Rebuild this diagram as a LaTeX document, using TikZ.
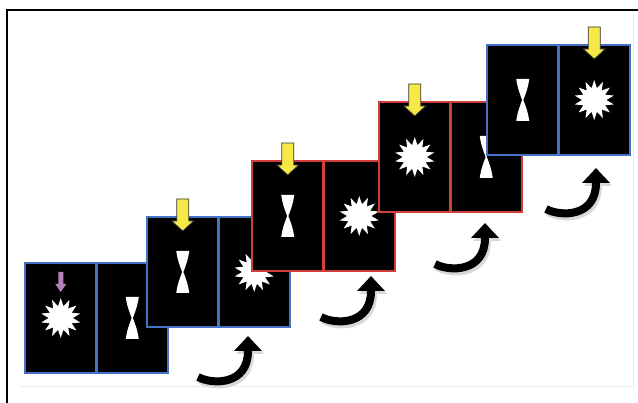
\documentclass[tikz,border=0pt]{standalone}
\usetikzlibrary{shapes.geometric, arrows.meta, positioning}
\definecolor{panelblue}{RGB}{68,114,196}
\definecolor{panelred}{RGB}{208,62,56}
\definecolor{cueyellow}{RGB}{246,232,70}
\definecolor{cuepink}{RGB}{184,128,184}

\begin{document}
\begin{tikzpicture}[
    x=1pt, y=-1pt,
    % Estilos de las celdas
    cellb/.style={rectangle, fill=black, draw=panelblue, line width=2.5pt, outer sep=0pt,
        minimum width=71.5pt, minimum height=110pt, inner sep=0pt, anchor=north west},
    cellr/.style={cellb, draw=panelred},
    burst/.style={star, star points=14, star point ratio=1.65, fill=white, inner sep=0pt, minimum size=40pt},
    % Estilos de flechas y marco
    curl/.style={line width=8pt, -{Triangle[length=15pt, width=27pt]}},
    frame/.style={line width=1.6pt, black}
]
\useasboundingbox (0,0) rectangle (638,403);

% ==========================================
% MACROS PARA MANTENER LA CONSISTENCIA
% ==========================================
% Reloj de arena blanco en el centro de una celda
\newcommand{\drawhourglass}[1]{
    \begin{scope}[shift={(#1)}]
        \fill[white] (-6.5,-21) -- (6.5,-21) .. controls (5,-10) and (1.5,-3) .. (0.6,0)
            -- (-0.6,0) .. controls (-1.5,-3) and (-5,-10) .. (-6.5,-21) -- cycle;
        \fill[white] (-6.5,21) -- (6.5,21) .. controls (5,10) and (1.5,3) .. (0.6,0)
            -- (-0.6,0) .. controls (-1.5,3) and (-5,10) .. (-6.5,21) -- cycle;
    \end{scope}
}
% Flecha amarilla de aviso sobre el borde superior de una celda
\newcommand{\drawcue}[1]{
    \filldraw[fill=cueyellow, draw=black!80, line width=0.8pt, shift={(#1)}]
        (-6,-18) -- (6,-18) -- (6,4) -- (11,4) -- (0,14) -- (-11,4) -- (-6,4) -- cycle;
}
% Flecha curva negra (con sombra) desde su cola
\newcommand{\drawcurl}[1]{
    \begin{scope}[shift={(#1)}]
        \draw[curl, black!15, shift={(2,3)}] (0,0) .. controls (15,8) and (50,8) .. (50,-26) -- (50,-41);
        \draw[curl] (0,0) .. controls (15,8) and (50,8) .. (50,-26) -- (50,-41);
    \end{scope}
}

% Marco exterior
\draw[black!8, line width=1pt] (20,387) -- (633,387) -- (633,14);
\draw[frame] (7,403) -- (7,10) -- (638,10);

% ==========================================
% PANEL 1
% ==========================================
\node[cellb] (p1a) at (25,263) {};
\node[cellb, right=0pt of p1a] (p1b) {};
\fill[cuepink, shift={(p1a.north)}] (-2.5,9) -- (2.5,9) -- (2.5,21) -- (5.5,21) -- (0,29) -- (-5.5,21) -- (-2.5,21) -- cycle;
\node[burst] (s1) at (p1a) {};
\drawhourglass{p1b}

% ==========================================
% PANEL 2
% ==========================================
\node[cellb] (p2a) at (147,217) {};
\node[cellb, right=0pt of p2a] (p2b) {};
\drawhourglass{p2a}
\drawcue{p2a.north}
\node[burst] (s2) at (p2b) {};

% ==========================================
% PANEL 3
% ==========================================
\node[cellr] (p3a) at (252,161) {};
\node[cellr, right=0pt of p3a] (p3b) {};
\drawhourglass{p3a}
\drawcue{p3a.north}
\node[burst] (s3) at (p3b) {};

% ==========================================
% PANEL 4
% ==========================================
\node[cellr] (p4a) at (379,102) {};
\node[cellr, right=0pt of p4a] (p4b) {};
\node[burst] (s4) at (p4a) {};
\drawcue{p4a.north}
\drawhourglass{p4b}

% ==========================================
% PANEL 5
% ==========================================
\node[cellb] (p5a) at (487,45) {};
\node[cellb, right=0pt of p5a] (p5b) {};
\drawhourglass{p5a}
\node[burst] (s5) at (p5b) {};
\drawcue{p5b.north}

% ==========================================
% FLECHAS CURVAS
% ==========================================
\coordinate (c1) at (198,377);
\coordinate (c2) at (321,317);
\coordinate (c3) at (435,264);
\coordinate (c4) at (546,209);
\drawcurl{c1} \drawcurl{c2} \drawcurl{c3} \drawcurl{c4}

\end{tikzpicture}
\end{document}
